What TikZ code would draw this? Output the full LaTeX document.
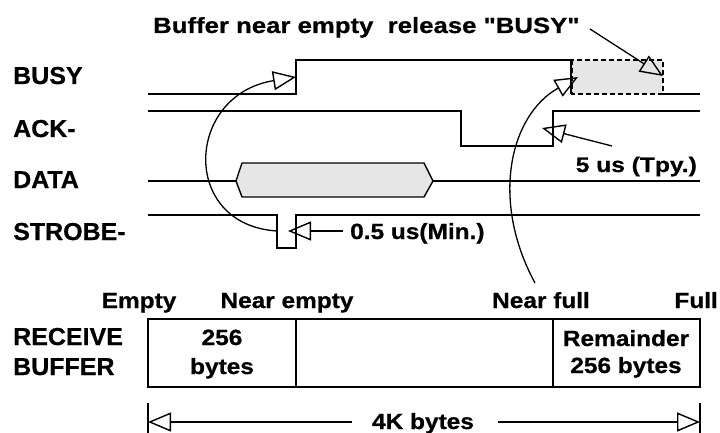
\documentclass[tikz,border=0pt]{standalone}
\usepackage{fontspec}
\newfontfamily\labfont{Liberation Sans}[UprightFont=* Bold,FakeStretch=1.02,FakeBold=0.7]
\newfontfamily\txtfont{Liberation Sans}[UprightFont=* Bold,FakeStretch=1.11,FakeBold=0.7]
\newfontfamily\widefont{Liberation Sans}[UprightFont=* Bold,FakeStretch=1.17,FakeBold=0.7]
\usetikzlibrary{arrows.meta}
\definecolor{fillgray}{HTML}{E6E6E6}
\begin{document}
\begin{tikzpicture}[x=1pt,y=-1pt,
  sig/.style={line width=1.4pt,line join=miter},
  lbl/.style={font=\labfont\fontsize{24.5}{28}\selectfont,inner sep=0pt,anchor=base west},
  txt/.style={font=\txtfont\fontsize{22}{26}\selectfont,inner sep=0pt,anchor=base},
  widetxt/.style={font=\widefont\fontsize{22}{26}\selectfont,inner sep=0pt},
  opentip/.style={-{Triangle[open,length=23pt,width=19pt,line width=1.4pt]}},
  pointer/.style={line width=1.3pt,opentip},
  boxline/.style={line width=1.6pt}]
\useasboundingbox (0,0) rectangle (720,433);
% labels
\node[widetxt,anchor=base west] (title) at (153,33) {Buffer near empty\ \ release \symbol{34}BUSY\symbol{34}};
\node[lbl] (lbusy) at (13,84) {BUSY};
\node[lbl] (lack) at (13,137) {ACK-};
\node[lbl] (ldata) at (13,188) {DATA};
\node[lbl] (lstrobe) at (13,240) {STROBE-};
\node[lbl] (lrec) at (13,345) {RECEIVE};
\node[lbl] (lbuf) at (13,375) {BUFFER};
% BUSY
\fill[fillgray] (572,60) rectangle (663,94);
\draw[boxline,dashed,dash pattern=on 5pt off 3pt] (572,60) rectangle (663,94);
\draw[sig] (148,94) -- (296,94) -- (296,60) -- (571,60) -- (571,94);
\draw[sig] (663,94) -- (700,94);
% ACK
\draw[sig] (148,111) -- (461,111) -- (461,146) -- (553,146) -- (553,111) -- (700,111);
% DATA
\draw[sig] (148,181) -- (236,181);
\draw[sig,fill=fillgray] (236,181) -- (242,163) -- (424,163) -- (433,181) -- (424,197) -- (242,197) -- cycle;
\draw[sig] (433,181) -- (700,181);
% STROBE
\draw[sig] (148,215) -- (277,215) -- (277,248) -- (296,248) -- (296,215) -- (700,215);
% annotations
\coordinate (titleend) at (590,29);
\coordinate (boxtip) at (663,76);
\draw[pointer] (titleend) -- (boxtip);
\node[widetxt,anchor=base east,font=\widefont\fontsize{21}{25}\selectfont] (tpy) at (697,172) {5 us (Tpy.)};
\coordinate (tpystart) at (612,146);
\coordinate (acktip) at (542,128);
\draw[pointer] (tpystart) -- (acktip);
\node[txt,anchor=base west] (minl) at (350,239) {0.5 us(Min.)};
\coordinate (minstart) at (343,231);
\coordinate (mintip) at (288,231);
\draw[pointer] (minstart) -- (mintip);
\coordinate (strobeedge) at (277,231);
\coordinate (busyrise) at (296,77);
\draw[pointer] (strobeedge) .. controls (180,225) and (185,95) .. (busyrise);
% buffer
\node[txt] (empty) at (139,308) {Empty};
\node[txt] (nempty) at (287,308) {Near empty};
\node[txt] (nfull) at (541,308) {Near full};
\node[txt,anchor=base east] (full) at (718,308) {Full};
\coordinate (nfulltop) at (535,283);
\coordinate (busyfall) at (578,77);
\draw[pointer] (nfulltop) .. controls (490,200) and (510,115) .. (busyfall);
\draw[boxline] (148,319) rectangle (700,387);
\draw[boxline] (296,319) -- (296,387);
\draw[boxline] (553,319) -- (553,387);
\node[txt] (b256) at (222,345) {256};
\node[txt] (bbytes) at (222,374) {bytes};
\node[txt] (rem) at (626,346) {Remainder};
\node[txt] (rem256) at (626,373) {256 bytes};
% dimension
\draw[line width=1.4pt] (148,403) -- (148,433);
\draw[line width=1.4pt] (700,403) -- (700,433);
\node[txt] (fourk) at (423,429) {4K bytes};
\coordinate (dimL) at (148,422);
\coordinate (dimR) at (700,422);
\draw[pointer] (352,422) -- (dimL);
\draw[pointer] (498,422) -- (dimR);
\end{tikzpicture}
\end{document}
